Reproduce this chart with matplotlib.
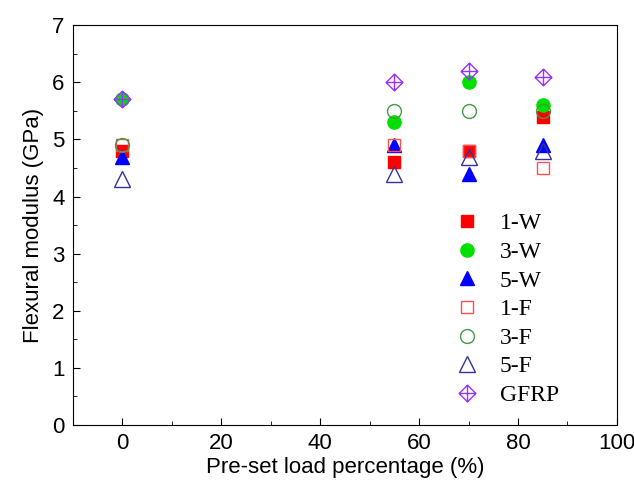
import matplotlib
matplotlib.use("Agg")
import matplotlib.pyplot as plt
from matplotlib.path import Path
from matplotlib.ticker import MultipleLocator

x = [0, 55, 70, 85]
s_1W = [4.8, 4.6, 4.8, 5.4]
s_3W = [5.7, 5.3, 6.0, 5.6]
s_5W = [4.7, 4.9, 4.4, 4.9]
s_1F = [4.9, 4.9, 4.8, 4.5]
s_3F = [4.9, 5.5, 5.5, 5.5]
s_5F = [4.3, 4.4, 4.7, 4.8]
s_GFRP = [5.7, 6.0, 6.2, 6.1]

diamond_plus = Path(
    [(0, 1), (1, 0), (0, -1), (-1, 0), (0, 1), (0, 1), (0, -1), (-1, 0), (1, 0)],
    [Path.MOVETO, Path.LINETO, Path.LINETO, Path.LINETO, Path.CLOSEPOLY,
     Path.MOVETO, Path.LINETO, Path.MOVETO, Path.LINETO])

fig = plt.figure(figsize=(6.34, 4.84), dpi=100)
ax = fig.add_axes([0.115, 0.122, 0.858, 0.826])

ax.plot(x, s_1W, ls='none', marker='s', ms=8, color='#ff0000', label='1-W')
ax.plot(x, s_3W, ls='none', marker='o', ms=9.5, color='#00e000', label='3-W')
ax.plot(x, s_5W, ls='none', marker='^', ms=10, color='#0000ff', label='5-W')
ax.plot(x, s_1F, ls='none', marker='s', ms=8, mfc='none', mec='#ff5050', mew=1, label='1-F')
ax.plot(x, s_3F, ls='none', marker='o', ms=10, mfc='none', mec='#449944', mew=1, label='3-F')
ax.plot(x, s_5F, ls='none', marker='^', ms=11, mfc='none', mec='#333399', mew=1, label='5-F')
ax.plot(x, s_GFRP, ls='none', marker=diamond_plus, ms=12, mfc='none', mec='#9933ff', mew=1, label='GFRP')

ax.set_xlim(-10, 100)
ax.set_ylim(0, 7)
ax.xaxis.set_major_locator(MultipleLocator(20))
ax.xaxis.set_minor_locator(MultipleLocator(10))
ax.yaxis.set_major_locator(MultipleLocator(1))
ax.yaxis.set_minor_locator(MultipleLocator(0.5))
ax.tick_params(which='both', direction='in', top=False, right=False)
ax.tick_params(which='major', length=5, labelsize=16, pad=6)
ax.tick_params(which='minor', length=3)
for lab in ax.get_xticklabels() + ax.get_yticklabels():
    lab.set_fontfamily('Liberation Sans')

ax.set_xlabel('Pre-set load percentage (%)', fontsize=16, family='Liberation Sans', labelpad=2)
ax.set_ylabel('Flexural modulus (GPa)', fontsize=16, family='Liberation Sans', labelpad=6)

ax.legend(loc='lower left', bbox_to_anchor=(0.655, 0.0), frameon=False,
          prop={'family': 'Liberation Serif', 'size': 17}, handletextpad=0.6,
          labelspacing=0.3, borderaxespad=0.4, handlelength=1.6)

fig.savefig('out.png', dpi=100)
